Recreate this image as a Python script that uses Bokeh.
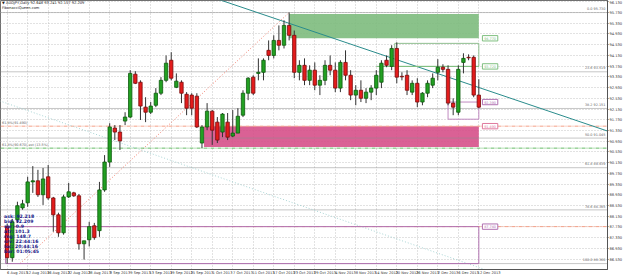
from bokeh.plotting import figure
from bokeh.models import FixedTicker, Range1d, Label, ColumnDataSource, NumeralTickFormatter
from bokeh.core.properties import value
from bokeh.embed import file_html
from bokeh.resources import INLINE

# ---- daily AUDJPY candles (bar index 0 = 6 Aug 2013) ----
opens = [87.74, 86.58, 88.00, 88.44, 88.63, 89.41, 89.45, 88.93, 89.60, 88.81,
         88.18, 87.51, 88.85, 89.00, 88.89, 87.10, 87.25, 87.77, 87.59, 89.11,
         90.15, 91.42, 91.27, 91.68, 91.83, 93.43, 93.13, 92.20, 92.01, 92.27,
         92.72, 93.20, 93.95, 92.94, 93.13, 92.68, 92.65, 92.61, 90.86, 91.46,
         92.05, 91.64, 91.27, 91.64, 91.12, 91.23, 91.90, 92.72, 93.32, 93.46,
         93.50, 94.32, 94.13, 94.69, 94.51, 95.25, 94.88, 93.50, 93.76, 93.20,
         93.58, 93.02, 93.20, 93.76, 93.58, 92.91, 93.87, 93.39, 92.65, 92.83,
         92.53, 92.76, 92.91, 93.13, 93.95, 93.72, 94.39, 93.35, 93.39, 92.76,
         93.09, 92.39, 92.72, 93.02, 93.50, 93.69, 93.61, 92.35, 92.01, 93.87,
         94.06, 94.06, 92.65]
highs = [87.85, 88.03, 88.67, 88.74, 89.60, 90.00, 89.86, 89.93, 90.04, 88.85,
         88.26, 88.93, 89.37, 89.04, 88.96, 87.21, 87.92, 87.88, 89.41, 90.41,
         91.60, 91.53, 91.53, 92.01, 93.58, 93.54, 93.20, 92.57, 92.39, 92.91,
         93.32, 94.13, 94.25, 93.46, 93.20, 92.76, 92.72, 92.72, 91.53, 92.35,
         92.09, 91.83, 91.98, 91.98, 92.09, 92.16, 92.83, 93.32, 93.39, 94.02,
         94.02, 94.69, 94.88, 95.25, 95.44, 95.73, 95.06, 93.95, 94.02, 93.76,
         93.87, 93.39, 93.95, 94.13, 93.87, 93.95, 94.32, 93.58, 93.02, 93.20,
         92.91, 93.02, 93.58, 93.95, 94.13, 94.51, 94.62, 93.50, 93.58, 93.20,
         93.28, 92.76, 93.20, 93.46, 93.99, 93.80, 93.76, 92.53, 93.76, 94.21,
         94.17, 94.13, 93.24]
lows = [86.36, 86.43, 87.88, 88.37, 88.48, 89.00, 88.85, 88.55, 88.74, 87.55,
        87.36, 87.44, 88.81, 88.85, 86.88, 86.51, 87.00, 87.25, 87.36, 89.04,
        89.97, 90.97, 90.60, 91.53, 91.79, 93.06, 91.72, 91.64, 91.94, 92.20,
        92.65, 93.13, 93.20, 92.91, 92.35, 91.90, 91.90, 91.42, 90.67, 91.34,
        90.79, 90.86, 91.08, 90.97, 91.08, 91.23, 91.83, 92.46, 92.65, 93.20,
        93.20, 93.95, 94.02, 94.32, 94.39, 94.69, 93.28, 93.20, 93.02, 93.02,
        92.83, 92.65, 93.02, 93.39, 92.76, 92.76, 93.20, 92.46, 92.27, 92.39,
        92.35, 92.46, 92.65, 92.91, 93.69, 93.58, 93.09, 93.20, 92.65, 92.65,
        92.20, 92.27, 92.57, 92.91, 93.20, 93.50, 92.27, 91.90, 91.90, 93.46,
        93.95, 92.57, 92.16]
closes = [86.58, 87.92, 88.52, 88.59, 89.41, 89.45, 88.93, 89.52, 88.81, 88.18,
          87.51, 88.85, 89.04, 88.89, 87.10, 87.21, 87.74, 87.33, 89.11, 90.15,
          91.46, 91.27, 90.94, 91.83, 93.46, 93.09, 92.24, 92.01, 92.24, 92.72,
          93.20, 93.84, 93.28, 93.17, 92.72, 92.16, 92.16, 91.46, 91.46, 92.05,
          91.34, 90.97, 91.94, 91.08, 91.23, 91.86, 92.72, 93.28, 92.72, 93.50,
          93.95, 94.13, 94.69, 94.51, 95.25, 94.88, 93.50, 93.76, 93.20, 93.58,
          93.02, 93.20, 93.76, 93.58, 92.91, 93.87, 93.39, 92.65, 92.83, 92.53,
          92.76, 92.91, 93.39, 93.84, 93.76, 94.39, 93.32, 93.33, 92.83, 93.09,
          92.39, 92.72, 93.09, 93.28, 93.69, 93.61, 92.35, 92.20, 93.61, 94.02,
          94.04, 92.65, 92.20]

date_bars = [0, 4, 8, 12, 16, 20, 24, 28, 32, 36, 40, 44, 48, 52, 56, 60, 64, 68, 72, 76, 80, 84, 88, 92]
date_labels = ["6 Aug 2013", "12 Aug 2013", "16 Aug 2013", "22 Aug 2013", "28 Aug 2013", "3 Sep 2013",
               "9 Sep 2013", "13 Sep 2013", "19 Sep 2013", "25 Sep 2013", "1 Oct 2013", "7 Oct 2013",
               "11 Oct 2013", "17 Oct 2013", "23 Oct 2013", "29 Oct 2013", "4 Nov 2013", "8 Nov 2013",
               "14 Nov 2013", "20 Nov 2013", "26 Nov 2013", "2 Dec 2013", "6 Dec 2013", "12 Dec 2013"]
price_ticks = [96.13, 95.73, 95.33, 94.93, 94.53, 94.13, 93.73, 93.33, 92.93, 92.53, 92.13, 91.73, 91.33,
               90.93, 90.53, 90.13, 89.73, 89.33, 88.93, 88.53, 88.13, 87.73, 87.33, 86.93, 86.53]

# Fibonacci retracement (high -> low)
fib_high = 95.73
fib_low = 86.36
fib_bar_low = 2.5
fib_bar_high = 55
fib_pcts = [0.0, 23.6, 38.2, 50.0, 61.8, 78.6, 100.0]

# zones (price bands) and boxes
green_zone = (55, 92, 94.77, 95.68)      # left bar, right bar, bottom, top
pink_zone = (38.4, 92, 90.71, 91.49)
green_box = (75.6, 92, 93.72, 94.58)
purple_box = (86, 92, 91.75, 92.39)
purple_low_box = (-0.3, 92, 86.36, 87.74)
zone_label_prices = [94.77, 93.72, 92.39, 91.49, 87.74]
zone_label_colors = ["#7fbf7f", "#7fbf7f", "#b070b0", "#e07a9e", "#b070b0"]

# trend lines: (bar, price) anchors
teal_line = ([40, 120], [96.30, 91.12])
pale_line = ([-2, 96], [92.47, 85.95])
salmon_levels = [91.49, 87.74]
green_level = 90.67

info_lines = ["ask:  92.218", "bid:  92.209", "spr:  0.9", "atr:  101.3", "rng:  148.7",
              "srv:  22:44:16", "loc:  20:44:16", "bar:  01:05:45"]
last_price = 92.209

# ---------------------------------------------------------------
p = figure(width=625, height=277, x_range=Range1d(-1.3, 117.1), y_range=Range1d(86.14, 96.18),
           output_backend="svg", toolbar_location=None, y_axis_location="right",
           min_border_left=0, min_border_top=0, min_border_right=0, min_border_bottom=0)
p.background_fill_color = "white"
p.border_fill_color = "white"
p.outline_line_color = "#707070"

p.xgrid.ticker = FixedTicker(ticks=date_bars)
p.ygrid.ticker = FixedTicker(ticks=price_ticks)
for g in (p.xgrid, p.ygrid):
    g.grid_line_color = "#c4c4c4"
    g.grid_line_dash = "1 2"
    g.grid_line_width = 1

xa = p.xaxis[0]
xa.ticker = FixedTicker(ticks=[b + 2 for b in date_bars])
xa.major_label_overrides = {b + 2: s for b, s in zip(date_bars, date_labels)}
ya = p.yaxis[0]
ya.ticker = FixedTicker(ticks=price_ticks)
ya.formatter = NumeralTickFormatter(format="0.000")
for ax in (xa, ya):
    ax.major_label_text_font_size = "3.6px"
    ax.major_label_text_font = "DejaVu Sans"
    ax.major_label_text_color = "#333333"
    ax.axis_line_color = "#555555"
    ax.major_tick_line_color = "#555555"
    ax.major_tick_in = 0
    ax.major_tick_out = 1
    ax.minor_tick_line_color = None
    ax.major_label_standoff = 1
xa.major_tick_out = 0

# zones
p.quad(left=[green_zone[0]], right=[green_zone[1]], bottom=[green_zone[2]], top=[green_zone[3]],
       fill_color="#7dbb7d", fill_alpha=0.9, line_color=None)
p.quad(left=[pink_zone[0]], right=[pink_zone[1]], bottom=[pink_zone[2]], top=[pink_zone[3]],
       fill_color="#d6508a", fill_alpha=0.9, line_color=None)

# fib levels
rng = fib_high - fib_low
fib_prices = [fib_high - rng * f / 100.0 for f in fib_pcts]
for f, fp in zip(fib_pcts, fib_prices):
    p.line([-1.3, 117.1], [fp, fp], line_color="#8c8c8c", line_dash="1 1", line_width=1)
p.text(x=[116.9] * len(fib_pcts), y=[fp + 0.05 for fp in fib_prices],
       text=["%.1f  %.3f" % (f, fp) for f, fp in zip(fib_pcts, fib_prices)],
       text_font=value("DejaVu Sans"), text_font_size="3.4px", text_color="#666666",
       text_align="right", text_baseline="bottom")
p.line([fib_bar_low, fib_bar_high], [fib_low, fib_high], line_color="#f08070", line_dash="1 2", line_width=1)

# salmon / green dash-dot levels
for lv in salmon_levels:
    p.line([-1.3, 117.1], [lv, lv], line_color="#f4a088", line_dash="4 1 1 1", line_width=1)
p.line([-1.3, 117.1], [green_level, green_level], line_color="#66bb66", line_dash="4 1 1 1", line_width=1)
left_texts = ["61.8%%(%.3f)" % salmon_levels[0], "61.8%%(%.3f) ext (13.5%%)" % green_level]
p.text(x=[-1.0, -1.0], y=[salmon_levels[0] + 0.06, green_level + 0.06], text=left_texts,
       text_font=value("DejaVu Sans"), text_font_size="3.4px", text_color="#666666",
       text_baseline="bottom")

# trend lines
p.line(teal_line[0], teal_line[1], line_color="#2a8c8c", line_width=1)
p.line(pale_line[0], pale_line[1], line_color="#a8d4d4", line_dash="1 2", line_width=1)

# boxes
p.quad(left=[green_box[0]], right=[green_box[1]], bottom=[green_box[2]], top=[green_box[3]],
       fill_color=None, line_color="#8fbf8f", line_width=1)
p.line([72, 92], [green_box[2], green_box[2]], line_color="#7fbf7f", line_width=1)
p.quad(left=[purple_box[0]], right=[purple_box[1]], bottom=[purple_box[2]], top=[purple_box[3]],
       fill_color=None, line_color="#c08ac0", line_width=1)
p.quad(left=[purple_low_box[0]], right=[purple_low_box[1]], bottom=[purple_low_box[2]], top=[purple_low_box[3]],
       fill_color=None, line_color="#b070b0", line_width=1)

# zone price tags
p.rect(x=[94.2] * len(zone_label_prices), y=zone_label_prices, width=3.0, height=0.2,
       fill_color="white", line_color=zone_label_colors, line_width=1)
p.text(x=[94.2] * len(zone_label_prices), y=zone_label_prices, text=["%.3f" % v for v in zone_label_prices],
       text_font=value("DejaVu Sans"), text_font_size="3.4px", text_color=zone_label_colors,
       text_align="center", text_baseline="middle")

# candles
xs = list(range(len(opens)))
bull = [c >= o for o, c in zip(opens, closes)]
src = ColumnDataSource(dict(
    x=xs, h=highs, l=lows,
    top=[max(o, c) for o, c in zip(opens, closes)],
    bot=[min(o, c) for o, c in zip(opens, closes)],
    fill=["#22a022" if b else "#e41c1c" for b in bull],
    edge=["#0c5a0c" if b else "#7a0d0d" for b in bull],
))
p.segment(x0="x", y0="h", x1="x", y1="l", source=src, line_color="#333333", line_width=1)
p.vbar(x="x", width=0.66, top="top", bottom="bot", fill_color="fill", line_color="edge", line_width=0.8, source=src)

# info block
info_y0 = 88.10
p.text(x=[-0.6] * len(info_lines), y=[info_y0 - 0.186 * k for k in range(len(info_lines))], text=info_lines,
       text_font=value("DejaVu Sans"), text_font_size="4.6px", text_font_style="bold",
       text_color="#1a1a8a", text_baseline="middle")

# title
p.text(x=[-1.0, -1.0], y=[96.10, 95.90],
       text=["\u25bc AUDJPY,Daily  92.648 93.241 92.157 92.209", "FibonacciQueen.com"],
       text_font=value("DejaVu Sans"), text_font_size="3.6px", text_color="#222222", text_baseline="middle")

# last price tag
p.add_layout(Label(x=117.2, y=last_price, text="%.3f" % last_price, text_font_size="3.6px",
                   text_color="white", background_fill_color="black", text_baseline="middle",
                   text_font="DejaVu Sans"))

open("out.html", "w").write(file_html(p, INLINE))
